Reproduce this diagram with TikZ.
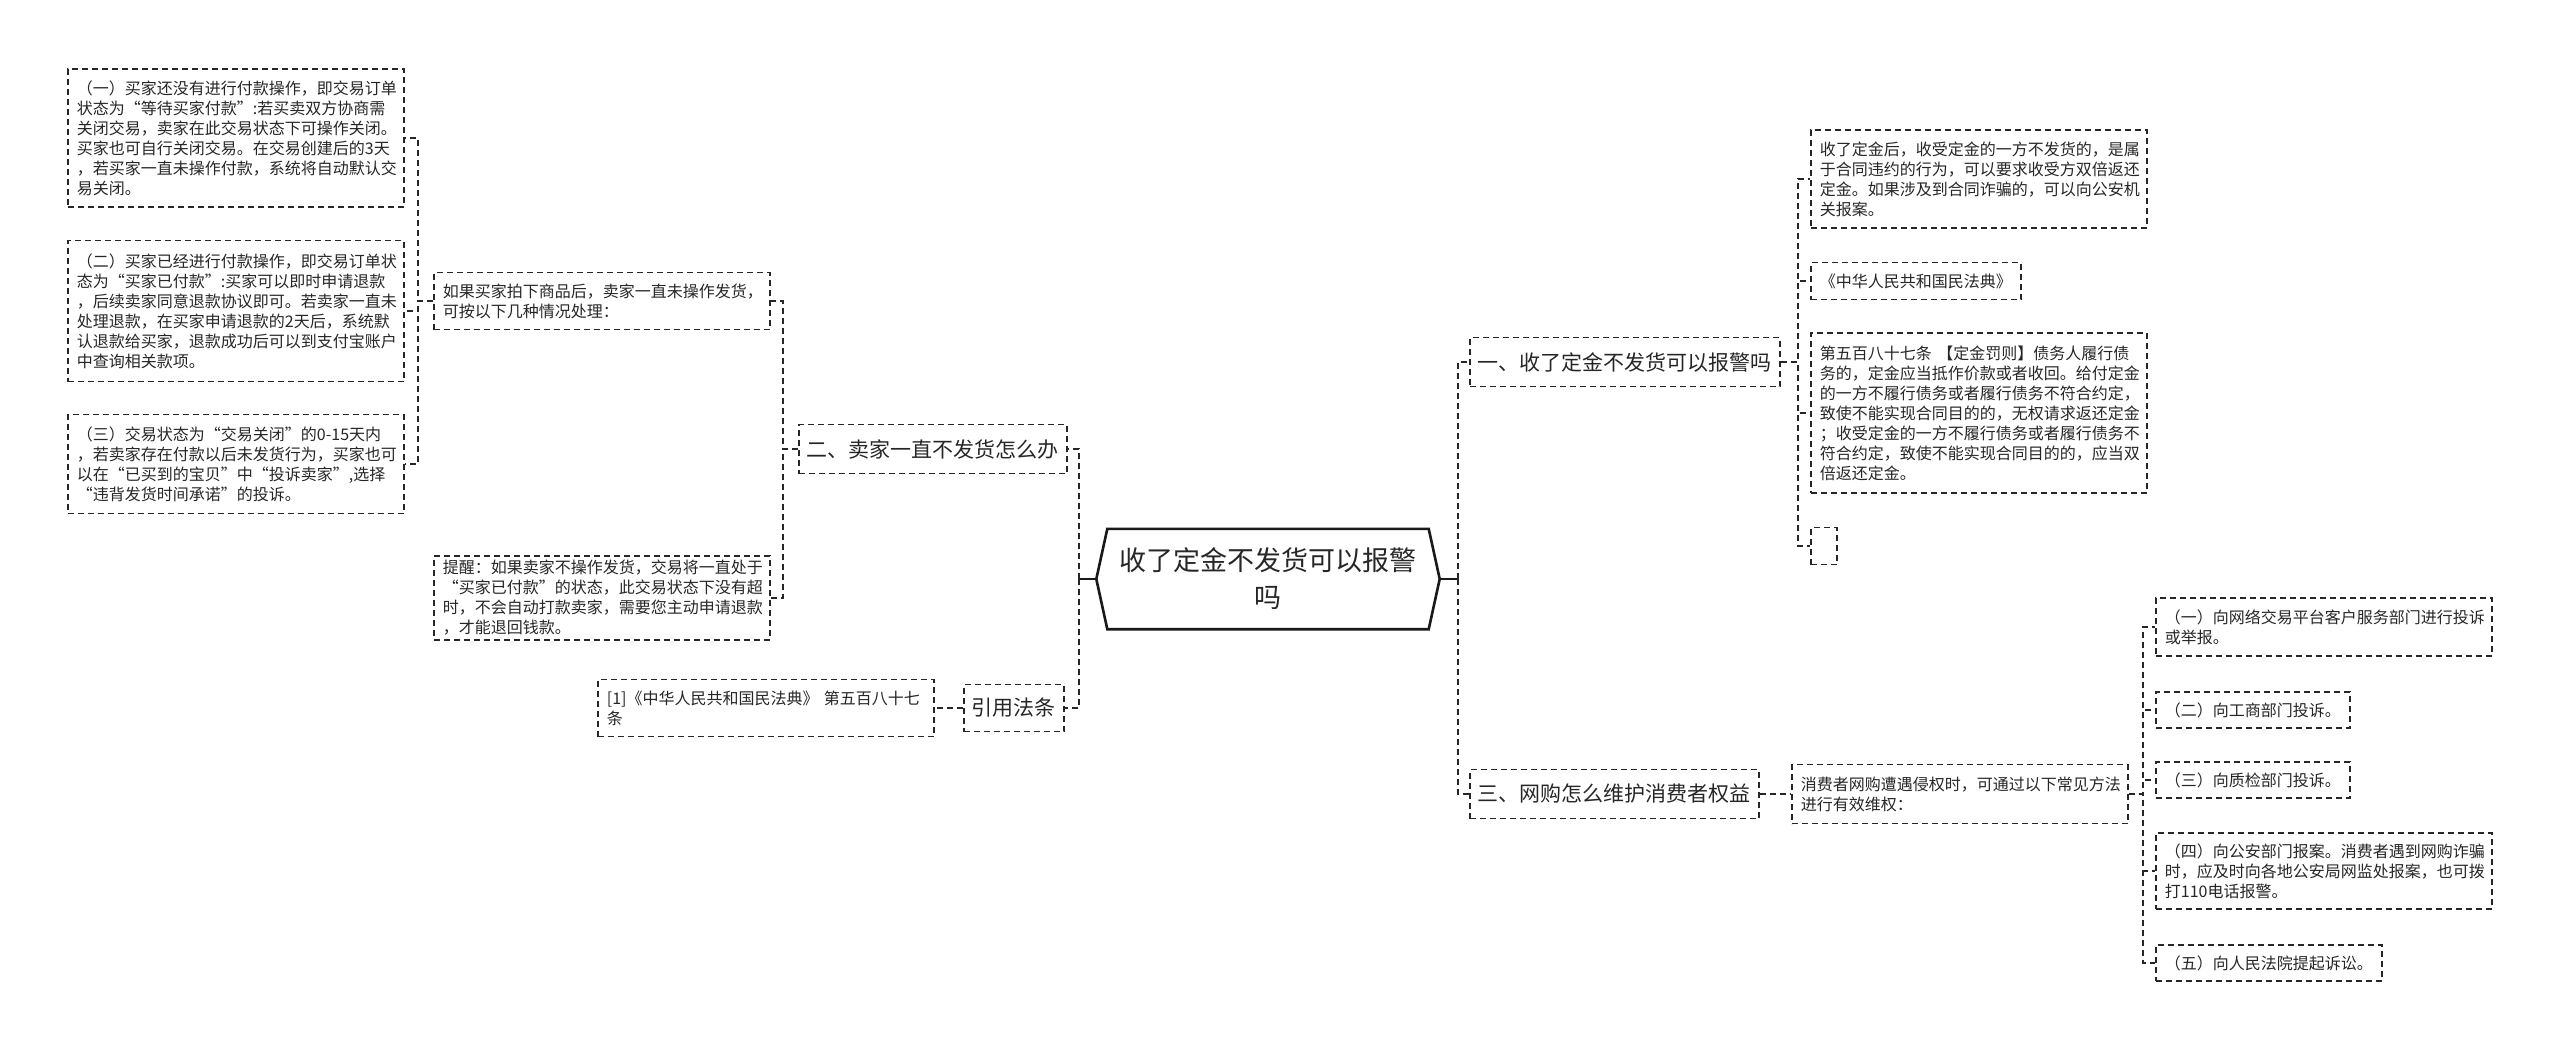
\documentclass[tikz,border=0pt]{standalone}
\usepackage{fontspec}
\setmainfont{Noto Sans CJK SC}
\usepackage{tikz}
\usetikzlibrary{positioning, calc}

\begin{document}
\begin{tikzpicture}[
    x=1pt, y=-1pt,
    every node/.style={text=black!85},
    leaf/.style={draw=black!85, line width=1.9pt, dash pattern=on 6pt off 4pt, anchor=west, align=left, inner xsep=9pt, inner ysep=0pt, font=\fontsize{16}{20}\selectfont},
    wide/.style={leaf, text width=318pt},
    topic/.style={leaf, inner xsep=8pt, minimum height=49pt, font=\fontsize{21}{26}\selectfont},
    link/.style={draw=black!85, line width=1.9pt, dash pattern=on 6pt off 4pt},
    stub/.style={draw=black!90, line width=2.6pt},
]
\useasboundingbox (0,0) rectangle (2560,1049);

% centre
\node[minimum width=343pt, minimum height=100pt, align=center, inner sep=0pt, font=\fontsize{27}{37}\selectfont] (root) at (1268,579) {收了定金不发货可以报警\\吗};
\draw[stub] (root.west) -- ([xshift=11pt]root.north west) -- ([xshift=-11pt]root.north east) -- (root.east) -- ([xshift=-11pt]root.south east) -- ([xshift=11pt]root.south west) -- cycle;

% left side
\node[topic] (sellerQ) at (798,449) {二、卖家一直不发货怎么办};
\node[topic, minimum height=47pt] (lawRef) at (963,708) {引用法条};
\node[wide, minimum height=57pt] (lawItem) at (597,708) {[1]《中华人民共和国民法典》 第五百八十七\\条};
\node[wide, minimum height=57pt] (buyerCase) at (433,301) {如果买家拍下商品后，卖家一直未操作发货，\\可按以下几种情况处理：};
\node[wide, minimum height=84pt] (remind) at (433,598) {提醒：如果卖家不操作发货，交易将一直处于\\“买家已付款”的状态，此交易状态下没有超\\时，不会自动打款卖家，需要您主动申请退款\\，才能退回钱款。};
\node[wide, minimum height=138pt] (caseA) at (67,138) {（一）买家还没有进行付款操作，即交易订单\\状态为“等待买家付款”:若买卖双方协商需\\关闭交易，卖家在此交易状态下可操作关闭。\\买家也可自行关闭交易。在交易创建后的3天\\，若买家一直未操作付款，系统将自动默认交\\易关闭。};
\node[wide, minimum height=141pt] (caseB) at (67,311) {（二）买家已经进行付款操作，即交易订单状\\态为“买家已付款”:买家可以即时申请退款\\，后续卖家同意退款协议即可。若卖家一直未\\处理退款，在买家申请退款的2天后，系统默\\认退款给买家，退款成功后可以到支付宝账户\\中查询相关款项。};
\node[wide, minimum height=99pt] (caseC) at (67,464) {（三）交易状态为“交易关闭”的0-15天内\\，若卖家存在付款以后未发货行为，买家也可\\以在“已买到的宝贝”中“投诉卖家”,选择\\“违背发货时间承诺”的投诉。};

% right side
\node[topic] (policeQ) at (1469,362) {一、收了定金不发货可以报警吗};
\node[topic] (rightsQ) at (1469,794) {三、网购怎么维护消费者权益};
\node[wide, minimum height=98pt] (depositA) at (1810,179) {收了定金后，收受定金的一方不发货的，是属\\于合同违约的行为，可以要求收受方双倍返还\\定金。如果涉及到合同诈骗的，可以向公安机\\关报案。};
\node[leaf, minimum height=37pt] (codeName) at (1810,281) {《中华人民共和国民法典》};
\node[wide, minimum height=160pt] (article) at (1810,413) {第五百八十七条 【定金罚则】债务人履行债\\务的，定金应当抵作价款或者收回。给付定金\\的一方不履行债务或者履行债务不符合约定，\\致使不能实现合同目的的，无权请求返还定金\\；收受定金的一方不履行债务或者履行债务不\\符合约定，致使不能实现合同目的的，应当双\\倍返还定金。};
\node[leaf, minimum width=26pt, minimum height=37pt, inner xsep=0pt] (blank) at (1810,546) {};
\node[wide, minimum height=59pt] (consumer) at (1791,794) {消费者网购遭遇侵权时，可通过以下常见方法\\进行有效维权：};
\node[wide, minimum height=58pt] (wayA) at (2155,627) {（一）向网络交易平台客户服务部门进行投诉\\或举报。};
\node[leaf, minimum height=36pt] (wayB) at (2155,710) {（二）向工商部门投诉。};
\node[leaf, minimum height=36pt] (wayC) at (2155,780) {（三）向质检部门投诉。};
\node[wide, minimum height=76pt] (wayD) at (2155,871) {（四）向公安部门报案。消费者遇到网购诈骗\\时，应及时向各地公安局网监处报案，也可拨\\打110电话报警。};
\node[leaf, minimum height=36pt] (wayE) at (2155,963) {（五）向人民法院提起诉讼。};

% connectors
\coordinate (rootL) at ([xshift=-17pt]root.west);
\coordinate (rootR) at ([xshift=18pt]root.east);
\draw[stub] (root.west) -- (rootL);
\draw[stub] (root.east) -- (rootR);
\draw[link] (rootL) |- (sellerQ.east);
\draw[link] (rootL) |- (lawRef.east);
\draw[link] (lawRef.west) -- (lawItem.east);
\draw[link] (sellerQ.west) -- ++(-15,0) |- (buyerCase.east);
\draw[link] (sellerQ.west) -- ++(-15,0) |- (remind.east);
\foreach \c in {caseA, caseB, caseC}
  \draw[link] (buyerCase.west) -- ++(-15,0) |- (\c.east);

\draw[link] (rootR) |- (policeQ.west);
\draw[link] (rootR) |- (rightsQ.west);
\foreach \c in {depositA, codeName, article, blank}
  \draw[link] (policeQ.east) -- ++(17,0) |- (\c.west);
\draw[link] (rightsQ.east) -- (consumer.west);
\foreach \c in {wayA, wayB, wayC, wayD, wayE}
  \draw[link] (consumer.east) -- ++(14,0) |- (\c.west);
\end{tikzpicture}
\end{document}
